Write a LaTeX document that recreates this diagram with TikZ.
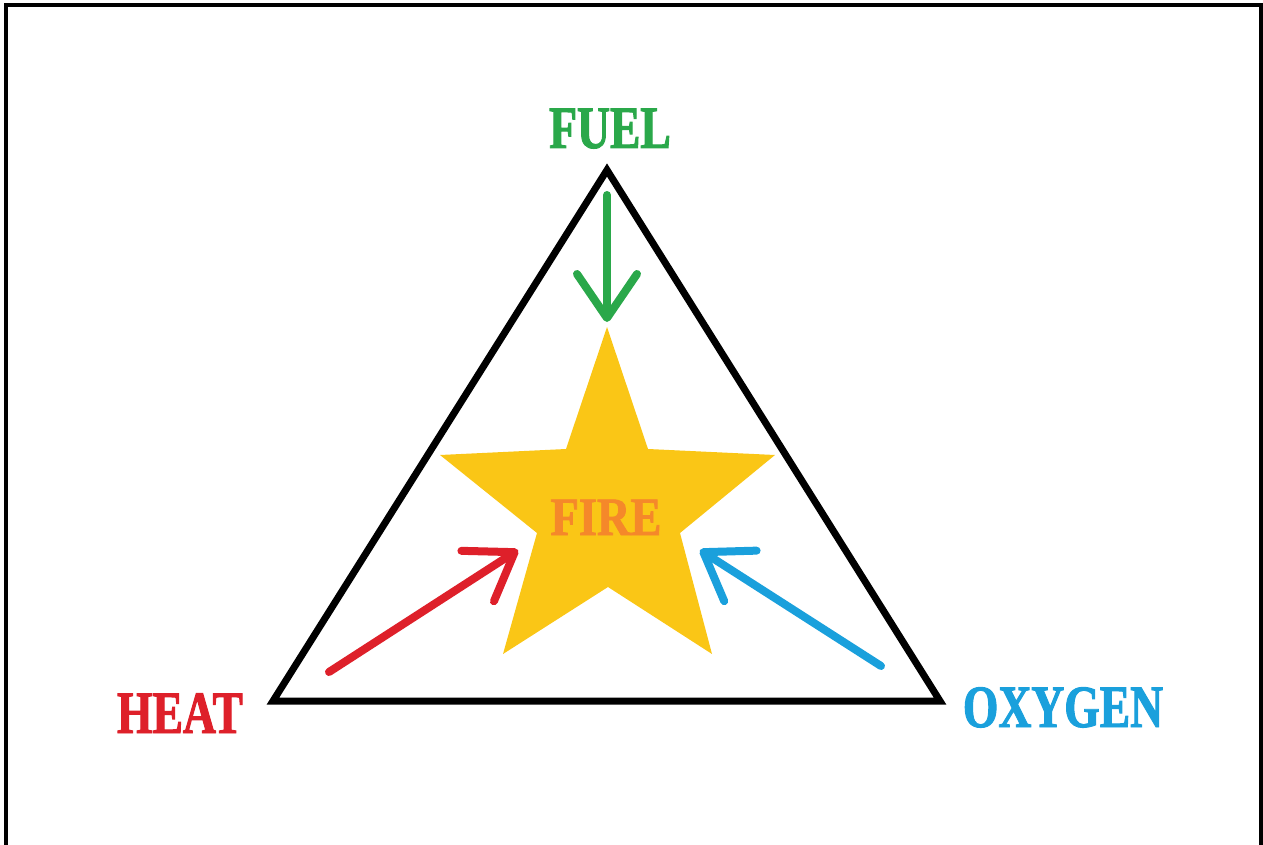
\documentclass[tikz,border=0pt]{standalone}
\usepackage{fontspec}
\setmainfont{Liberation Serif}
\newfontfamily\labfont[FakeStretch=0.76,FakeBold=1.6]{Liberation Serif}
\newfontfamily\firefont[FakeStretch=0.86,FakeBold=1.4]{Liberation Serif}
\usetikzlibrary{arrows.meta}
\definecolor{fuelgreen}{RGB}{42,168,74}
\definecolor{heatred}{RGB}{222,32,42}
\definecolor{oxyblue}{RGB}{26,160,220}
\definecolor{fireorange}{RGB}{245,136,42}
\definecolor{staryellow}{RGB}{250,198,22}
\begin{document}
\begin{tikzpicture}[x=0.5pt,y=-0.5pt,
  lab/.style={font=\labfont\bfseries\fontsize{30pt}{30pt}\selectfont, inner sep=0pt, anchor=base},
  feed/.style={line width=4pt, line cap=round, line join=round,
    -{Straight Barb[length=22pt,width=30pt,line cap=round,line join=round]}},
  tri/.style={line width=3.5pt, line join=miter},
  frame/.style={line width=1.8pt}]
\useasboundingbox (0,0) rectangle (1263,845);
\draw[frame] (6,845) -- (6,5) -- (1261,5) -- (1261,845);
% triangle
\coordinate (apex) at (607,170);
\coordinate (bl) at (273,701);
\coordinate (br) at (940,701);
\draw[tri] (apex) -- (bl) -- (br) -- cycle;
% star
\fill[staryellow] (607,327) -- (566,449) -- (440,455) -- (537,533) -- (503,654)
  -- (608,587) -- (712,654) -- (680,533) -- (775,455) -- (648,449) -- cycle;
% labels
\node[lab, text=fuelgreen] (fuel) at (610,148) {FUEL};
\node[lab, text=heatred] (heat) at (180,733) {HEAT};
\node[lab, text=oxyblue] (oxygen) at (1063,727) {OXYGEN};
\node[lab, text=fireorange, font=\firefont\bfseries\fontsize{27pt}{27pt}\selectfont] (fire) at (606,535) {FIRE};
% arrows
\coordinate (gs) at (607,195);
\coordinate (gt) at (607,322);
\coordinate (rs) at (329,672);
\coordinate (rt) at (518,550);
\coordinate (bs) at (881,666);
\coordinate (bt) at (700,550);
\draw[feed, fuelgreen] (gs) -- (gt);
\draw[feed, heatred] (rs) -- (rt);
\draw[feed, oxyblue] (bs) -- (bt);
\end{tikzpicture}
\end{document}
